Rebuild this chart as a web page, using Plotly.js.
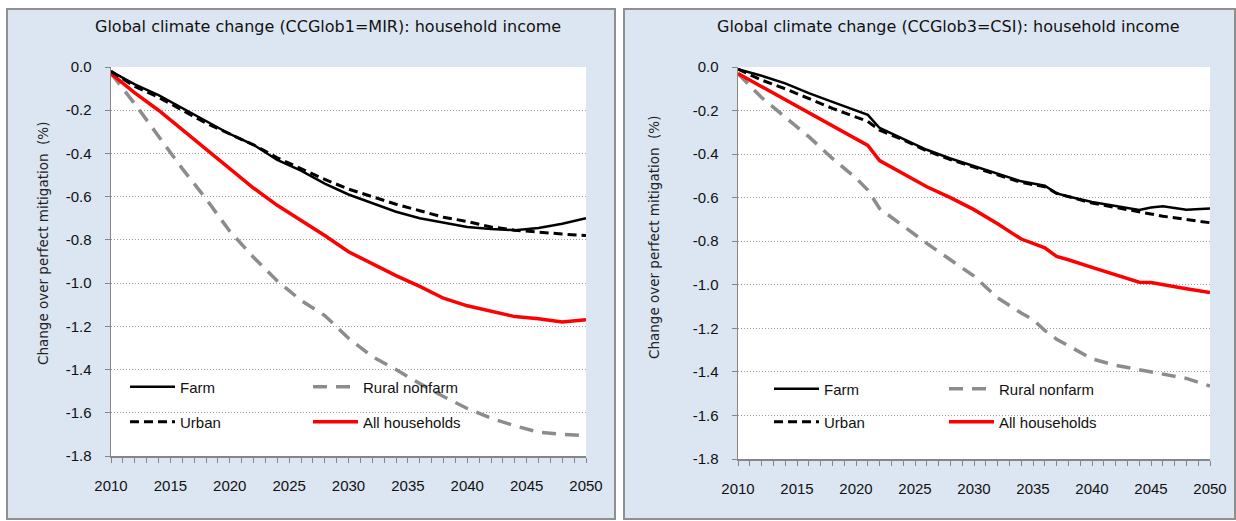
<!DOCTYPE html>
<html>
<head>
<meta charset="utf-8">
<script src="https://cdn.plot.ly/plotly-3.0.1.min.js"></script>
<style>body{margin:0;padding:0;background:#fff}#chart{width:1236px;height:521px}</style>
</head>
<body>
<div id="chart"></div>
<script>
// ---------- data ----------
const titleLeft = "Global climate change (CCGlob1=MIR): household income";
const titleRight = "Global climate change (CCGlob3=CSI): household income";
const yTitle = "Change over perfect mitigation  (%)";
const seriesNames = ["Farm", "Rural nonfarm", "Urban", "All households"];

const yearsL = [2010, 2012, 2014, 2016, 2018, 2020, 2022, 2024, 2026, 2028, 2030, 2032, 2034, 2036, 2038, 2040, 2042, 2044, 2046, 2048, 2050];
const farmL  = [-0.02, -0.08, -0.13, -0.19, -0.25, -0.31, -0.36, -0.43, -0.48, -0.54, -0.59, -0.63, -0.67, -0.70, -0.72, -0.74, -0.75, -0.755, -0.745, -0.725, -0.70];
const ruralL = [-0.03, -0.17, -0.32, -0.47, -0.61, -0.76, -0.88, -0.99, -1.08, -1.15, -1.255, -1.34, -1.40, -1.465, -1.525, -1.58, -1.625, -1.66, -1.69, -1.70, -1.705];
const urbanL = [-0.02, -0.09, -0.14, -0.20, -0.26, -0.31, -0.36, -0.42, -0.47, -0.52, -0.565, -0.60, -0.635, -0.665, -0.695, -0.715, -0.74, -0.755, -0.765, -0.773, -0.78];
const allL   = [-0.03, -0.12, -0.20, -0.29, -0.38, -0.47, -0.56, -0.64, -0.71, -0.78, -0.855, -0.91, -0.965, -1.015, -1.07, -1.105, -1.13, -1.155, -1.165, -1.18, -1.17];

const yearsR = [2010, 2012, 2014, 2016, 2018, 2020, 2021, 2022, 2024, 2026, 2028, 2030, 2032, 2034, 2035, 2036, 2037, 2038, 2040, 2042, 2044, 2045, 2046, 2048, 2050];
const farmR  = [-0.01, -0.04, -0.075, -0.12, -0.16, -0.20, -0.22, -0.28, -0.33, -0.38, -0.42, -0.455, -0.49, -0.525, -0.535, -0.545, -0.58, -0.595, -0.62, -0.64, -0.657, -0.645, -0.64, -0.655, -0.65];
const ruralR = [-0.03, -0.14, -0.23, -0.32, -0.42, -0.51, -0.565, -0.65, -0.73, -0.81, -0.885, -0.96, -1.06, -1.13, -1.16, -1.21, -1.25, -1.28, -1.34, -1.37, -1.39, -1.40, -1.41, -1.43, -1.465];
const urbanR = [-0.01, -0.06, -0.10, -0.145, -0.19, -0.23, -0.25, -0.29, -0.335, -0.385, -0.425, -0.46, -0.495, -0.53, -0.54, -0.55, -0.58, -0.595, -0.625, -0.645, -0.665, -0.675, -0.685, -0.70, -0.715];
const allR   = [-0.03, -0.09, -0.15, -0.21, -0.27, -0.33, -0.36, -0.43, -0.49, -0.55, -0.60, -0.655, -0.72, -0.79, -0.81, -0.83, -0.87, -0.885, -0.92, -0.955, -0.988, -0.99, -1.00, -1.018, -1.035];

const yTickVals = [0, -0.2, -0.4, -0.6, -0.8, -1.0, -1.2, -1.4, -1.6, -1.8];
const yTickText = ["0.0", "-0.2", "-0.4", "-0.6", "-0.8", "-1.0", "-1.2", "-1.4", "-1.6", "-1.8"];
const xTickVals = [2010, 2015, 2020, 2025, 2030, 2035, 2040, 2045, 2050];
const xTickText = ["2010", "2015", "2020", "2025", "2030", "2035", "2040", "2045", "2050"];

// ---------- styles ----------
const W = 1236, H = 521;
const px = v => v / W;
const py = v => 1 - v / H;
const FONT = "Liberation Sans, Arial, sans-serif";
const TFONT = "DejaVu Sans, sans-serif";
const styles = [
  {color: "#000000", width: 2.5, dash: "solid"},
  {color: "#8c8c8c", width: 3.5, dash: "14px,9px"},
  {color: "#000000", width: 3, dash: "9px,5px"},
  {color: "#ff0000", width: 3.5, dash: "solid"}
];
const ranks = [1, 2, 1, 2];

function mk(x, ys, xa, ya, legs) {
  return ys.map((y, i) => ({
    type: "scatter", mode: "lines", x: x, y: y, name: seriesNames[i],
    xaxis: xa, yaxis: ya, legend: legs[i < 2 ? 0 : 1], legendrank: ranks[i],
    line: {color: styles[i].color, width: styles[i].width, dash: styles[i].dash},
    hoverinfo: "skip"
  }));
}
const traces = [
  ...mk(yearsL, [farmL, ruralL, urbanL, allL], "x", "y", ["legend", "legend2"]),
  ...mk(yearsR, [farmR, ruralR, urbanR, allR], "x2", "y2", ["legend3", "legend4"])
];
// draw order: rural, all, urban, farm on top
const order = [1, 3, 2, 0];
const data = [...order.map(i => traces[i]), ...order.map(i => traces[i + 4])];

function xax(dom, anchor) {
  return {
    domain: dom, anchor: anchor, range: [2010, 2050], tickmode: "array",
    tickvals: xTickVals, ticktext: xTickText, ticks: "outside", ticklen: 5,
    tickcolor: "#868686", tickwidth: 1,
    minor: {dtick: 1, tick0: 2010, ticks: "outside", ticklen: 5, tickcolor: "#868686", showgrid: false},
    showline: true, linecolor: "#868686", linewidth: 1.5, showgrid: false, zeroline: false,
    tickfont: {family: FONT, size: 15, color: "#111"}, ticklabelstandoff: 10, fixedrange: true
  };
}
function yax(dom, anchor) {
  return {
    domain: dom, anchor: anchor, range: [-1.8, 0], tickmode: "array",
    tickvals: yTickVals, ticktext: yTickText, ticks: "outside", ticklen: 5,
    tickcolor: "#868686", showline: true, linecolor: "#868686", linewidth: 1.5,
    showgrid: true, gridcolor: "#9a9a9a", gridwidth: 1, griddash: "1px,2px", zeroline: false,
    tickfont: {family: FONT, size: 15, color: "#111"}, ticklabelstandoff: 10, fixedrange: true
  };
}
function leg(x, y, ew) {
  return {x: px(x), y: py(y), xanchor: "left", yanchor: "middle", orientation: "h",
    entrywidth: ew, entrywidthmode: "pixels", itemwidth: 45, bgcolor: "rgba(0,0,0,0)",
    font: {family: FONT, size: 15, color: "#111"}, tracegroupgap: 0, traceorder: "normal"};
}

const layout = {
  width: W, height: H, margin: {l: 0, r: 0, t: 0, b: 0},
  paper_bgcolor: "#ffffff", plot_bgcolor: "rgba(0,0,0,0)", showlegend: true,
  xaxis: xax([px(111), px(586)], "y"),
  yaxis: yax([py(456), py(67)], "x"),
  xaxis2: xax([px(738), px(1210)], "y2"),
  yaxis2: yax([py(459), py(67)], "x2"),
  legend: leg(125, 387, 123),
  legend2: leg(125, 422, 123),
  legend3: leg(769, 389, 115),
  legend4: leg(769, 422, 115),
  shapes: [
    {type: "rect", xref: "paper", yref: "paper", x0: px(7), x1: px(615), y0: py(519), y1: py(9),
     fillcolor: "#dce6f2", line: {color: "#8f8f8f", width: 2}, layer: "below"},
    {type: "rect", xref: "paper", yref: "paper", x0: px(624), x1: px(1235), y0: py(519), y1: py(9),
     fillcolor: "#dce6f2", line: {color: "#8f8f8f", width: 2}, layer: "below"},
    {type: "rect", xref: "paper", yref: "paper", x0: px(111), x1: px(586), y0: py(456), y1: py(67),
     fillcolor: "#ffffff", line: {width: 0}, layer: "below"},
    {type: "rect", xref: "paper", yref: "paper", x0: px(738), x1: px(1210), y0: py(459), y1: py(67),
     fillcolor: "#ffffff", line: {width: 0}, layer: "below"}
  ],
  annotations: [
    {text: titleLeft, xref: "paper", yref: "paper", x: px(328), y: py(27), xanchor: "center", yanchor: "middle",
     showarrow: false, font: {family: TFONT, size: 16, color: "#111"}},
    {text: titleRight, xref: "paper", yref: "paper", x: px(948), y: py(27), xanchor: "center", yanchor: "middle",
     showarrow: false, font: {family: TFONT, size: 16, color: "#111"}},
    {text: yTitle, xref: "paper", yref: "paper", x: px(43), y: py(244), xanchor: "center", yanchor: "middle",
     textangle: -90, showarrow: false, font: {family: TFONT, size: 13.5, color: "#222"}},
    {text: yTitle, xref: "paper", yref: "paper", x: px(654), y: py(238), xanchor: "center", yanchor: "middle",
     textangle: -90, showarrow: false, font: {family: TFONT, size: 13.5, color: "#222"}}
  ]
};

Plotly.newPlot("chart", data, layout, {staticPlot: true, displayModeBar: false});
</script>
</body>
</html>
